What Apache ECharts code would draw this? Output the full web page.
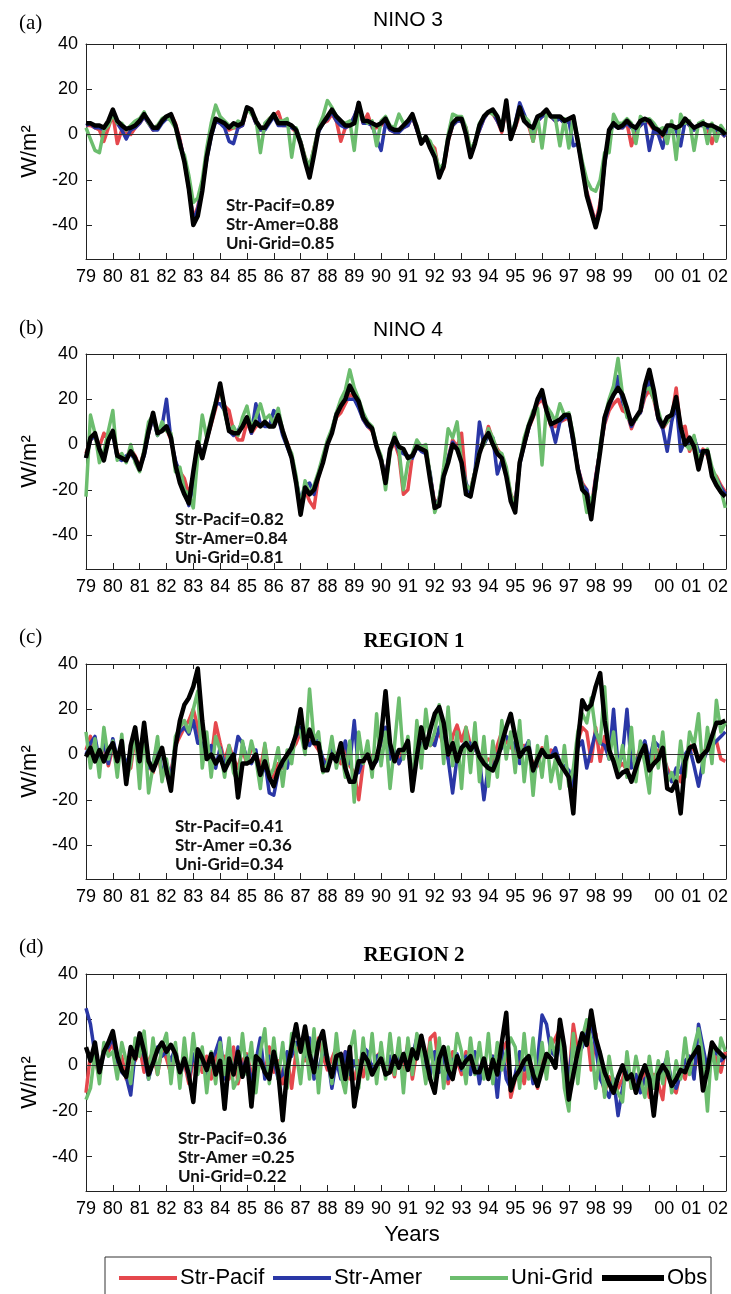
<!DOCTYPE html>
<html>
<head>
<meta charset="utf-8">
<title>Net heat flux anomalies</title>
<script src="https://cdn.jsdelivr.net/npm/echarts@6/dist/echarts.min.js"></script>
<style>
  html, body { margin: 0; padding: 0; background: #fff; }
  #chart { width: 731px; height: 1294px; }
</style>
</head>
<body>
<div id="chart"></div>
<script>
// samples every two months, starting Jan 1979
const startYear = 1979;
const perYear = 6;
const yearTicks = [1979, 1980, 1981, 1982, 1983, 1984, 1985, 1986, 1987, 1988, 1989, 1990,
  1991, 1992, 1993, 1994, 1995, 1996, 1997, 1998, 1999, 2000, 2001, 2002];
const fluxTicks = [-40, -20, 0, 20, 40];
const seriesNames = ['Str-Pacif', 'Str-Amer', 'Uni-Grid', 'Obs'];
const panelTitles = ['NINO 3', 'NINO 4', 'REGION 1', 'REGION 2'];
const panelLetters = ['(a)', '(b)', '(c)', '(d)'];
const corrPacif = ['0.89', '0.82', '0.41', '0.36'];
const corrAmer = ['0.88', '0.84', '0.36', '0.25'];
const corrUni = ['0.85', '0.81', '0.34', '0.22'];

// (a) NINO 3
const nino3Obs = [
  5, 5, 4, 4, 3, 6,   11, 6, 4, 2.5, 3, 4,   6, 9, 6, 3, 3, 6,   8, 9, 4, -4, -12, -24,
  -40, -36, -25, -10, 0, 7,   6, 5, 3, 5, 4, 5,   12, 11, 6, 3, 3, 6,   9, 5, 5, 5, 4, 2,
  -4, -12, -19, -9, 2, 5,   8, 11, 8, 6, 4, 4,   5, 14, 6, 6, 5, 4,   5, 7, 3, 2, 2, 4,
  6, 9, 3, -4, -1, -6,   -10, -19, -14, -2, 5, 7,   7, 0, -10, -4, 4, 8,   10, 11, 8, 2, 15, -2,
  4, 12, 6, 4, 3, 8,   9, 11, 8, 8, 8, 6,   7, 8, -3, -15, -27, -34,   -41, -33, -12, 2, 5, 3,
  4, 6, 4, 3, 6, 7,   6, 3, 2, 0, 4, 4,   3, 4, 7, 5, 3, 4,   5, 4, 4, 3, 2, 0
];
const nino3Pacif = [
  4, 4, 3, 2, -3, 3,   9, -4, 2, 1, 0, 3,   5, 8, 5, 2, 4, 6,   7, 9, 5, -2, -12, -24,
  -37, -32, -22, -9, 1, 6,   5, 4, 2, 3, 3, 4,   11, 10, 5, 2, 4, 7,   8, 10, 4, 4, 3, 1,
  -3, -10, -15, -6, 2, 5,   6, 9, 6, -3, 3, 4,   8, 12, 5, 9, 3, 3,   4, 6, 2, 1, 2, 3,
  4, 8, 2, -3, -2, -4,   -6, -17, -15, -3, 4, 6,   6, 3, -8, -3, 2, 7,   10, 9, 6, 1, 12, -1,
  3, 9, 8, 4, -3, 6,   8, 9, 8, 6, 7, 5,   6, 7, -3, -14, -25, -32,   -39, -30, -12, 1, 4, 3,
  3, 5, -5, 2, 4, 6,   5, 2, 0, -1, 3, 3,   2, 4, 6, 4, 2, 4,   4, 3, -4, 2, 1, -1
];
const nino3Amer = [
  4, 5, 3, 3, 2, 5,   10, 5, 2, -2, 2, 3,   5, 8, 5, 2, 2, 5,   7, 7, 4, -3, -11, -23,
  -38, -33, -23, -11, -1, 6,   5, 3, -3, -4, 3, 4,   12, 10, 5, 2, 2, 5,   8, 4, 4, 4, 3, 2,
  -3, -11, -17, -7, 1, 5,   7, 10, 6, 4, 3, 4,   8, 13, 5, 5, 4, -2,   -7, 5, 2, 1, 1, 3,
  4, 8, 2, -3, -2, -5,   -9, -17, -14, -2, 4, 6,   6, 2, -9, -3, 2, 7,   10, 10, 6, 2, 13, -1,
  5, 14, 9, 4, 2, 6,   8, 9, 8, 6, 7, 5,   6, -5, -4, -14, -26, -33,   -40, -32, -13, 1, 4, 3,
  3, 5, 3, 2, 4, 6,   -7, 2, 0, -6, 3, 3,   2, -5, 6, 4, 2, 4,   4, 3, 3, 2, 1, -1
];
const nino3Uni = [
  3, -2, -7, -8, 2, 4,   9, 5, 5, 2, 4, 6,   7, 10, 5, 3, 4, 7,   8, 6, 3, -6, -9, -18,
  -30, -28, -20, -6, 5, 13,   8, 6, 4, 3, 6, 5,   12, 9, 7, -8, 5, 7,   9, 6, 6, 7, -10, 3,
  -3, -10, -14, -6, 3, 8,   15, 12, 8, 6, 5, 6,   -7, 12, 7, 5, 6, -5,   6, 8, 4, 3, 9, 5,
  6, 8, 4, -3, -1, -3,   -8, -15, -13, 0, 9, 8,   8, 3, -7, -3, 5, 8,   10, 9, 8, 4, 12, 0,
  5, 9, 8, 6, -3, 8,   -6, 9, 8, 7, -5, 7,   -6, 8, -2, -12, -20, -24,   -25, -20, -8, -8, 9, 5,
  5, 7, 5, -4, 8, 6,   7, 5, 2, 3, -4, 6,   -11, 9, 5, 6, -7, 5,   6, -4, 5, -3, 4, 1
];

// (b) NINO 4
const nino4Obs = [
  -6, 3, 5, -2, -7, 2,   6, -5, -6, -7, -3, -6,   -11, -4, 6, 14, 5, 6,   8, 3, -9, -17, -22, -26,
  -12, 1, -6, 2, 10, 18,   27, 16, 6, 5, 5, 8,   12, 6, 10, 8, 10, 8,   8, 13, 6, 0, -6, -17,
  -31, -19, -22, -20, -14, -8,   0, 5, 13, 17, 20, 26,   22, 19, 12, 9, 7, -1,   -7, -17, -2, 3, -1, -2,
  -6, -5, -1, -2, -3, -16,   -28, -27, -14, -8, 0, -2,   -8, -22, -23, -13, -4, 2,   5, 0, -4, -6, -14, -25,
  -30, -8, 0, 8, 13, 20,   24, 15, 9, 10, 11, 13,   13, 2, -11, -20, -22, -33,   -17, -3, 12, 18, 22, 25,
  22, 16, 9, 12, 15, 26,   33, 24, 12, 8, 12, 13,   21, 8, 0, 3, -1, -11,   -3, -3, -14, -18, -21, -23
];
const nino4Pacif = [
  -4, 2, 4, -1, 5, 2,   5, -4, -5, -6, -2, -5,   -10, -3, 5, 12, 6, 6,   7, 2, -8, -12, -15, -22,
  -14, 0, -5, 2, 9, 16,   25, 17, 15, 6, 2, 2,   10, 5, 8, 9, 10, 8,   9, 12, 5, 1, -5, -16,
  -28, -20, -25, -28, -14, -8,   1, 6, 12, 14, 18, 22,   21, 17, 11, 8, 6, 0,   -6, -15, -3, 1, -5, -22,
  -20, -5, 0, -2, -2, -14,   -26, -24, -12, -6, 2, -1,   5, -18, -20, -12, -3, 0,   8, 2, -2, -5, -12, -22,
  -26, -8, 0, 7, 12, 18,   20, 15, 8, 8, 10, 11,   12, 2, -10, -17, -20, -28,   -14, -2, 9, 15, 18, 20,
  15, 14, 7, 12, 14, 21,   24, 20, 11, 7, 10, 12,   25, 7, 8, -3, 2, -8,   -2, -5, -12, -14, -18, -21
];
const nino4Amer = [
  -6, 2, 4, -3, -6, 2,   5, -6, -7, -5, -4, -7,   -10, -5, 5, 12, 4, 8,   20, 2, -7, -13, -20, -27,
  -18, 1, -5, 2, 10, 18,   18, 15, 6, 4, 6, 10,   12, 5, 18, 9, 8, 8,   15, 12, 4, -1, -6, -16,
  -25, -18, -17, -22, -13, -6,   1, 6, 14, 17, 20, 20,   20, 16, 11, 8, 7, -1,   -6, -15, -2, 2, -3, -4,
  -5, -6, -1, -3, -4, -13,   -28, -24, -12, -6, 1, -2,   -8, -17, -22, -12, 10, 0,   4, 3, -13, -7, -13, -24,
  -26, -9, 0, 7, 14, 19,   22, 15, 9, 1, 10, 12,   12, 0, -10, -18, -20, -30,   -15, -2, 10, 17, 22, 30,
  19, 14, 8, 12, 14, 23,   28, 22, 11, 7, -3, 10,   18, -3, 2, 0, 3, -3,   -3, -4, -12, -15, -19, -22
];
const nino4Uni = [
  -23, 13, 5, -8, -3, 6,   15, -7, -4, -8, 0, -8,   -12, -2, 10, 13, 4, 10,   6, 5, -12, -10, -20, -22,
  -28, -5, 13, 3, 12, 19,   26, 14, 6, 8, 4, 12,   17, 7, 12, 18, 11, 13,   9, 16, 6, 0, -4, -14,
  -28, -16, -22, -18, -12, -5,   2, 7, 14, 20, 24, 33,   25, 20, 14, 10, 8, 0,   -5, -20, -4, 5, -2, -20,
  -8, -4, 2, -1, 0, -14,   -30, -24, -10, 7, 3, 10,   -8, -18, -20, -12, -3, 0,   7, 3, -3, -4, -10, -22,
  -28, -8, 3, 9, 15, 16,   -9, 17, 14, 10, 18, 13,   14, 4, -12, -18, -30, -24,   -20, 0, 12, 20, 26, 38,
  22, 12, 10, 11, 15, 24,   25, 20, 15, 8, 10, 14,   20, 8, 0, -2, 4, -6,   -4, -2, -10, -15, -20, -28
];

// (c) REGION 1
const region1Obs = [
  -1, 3, -3, 2, -3, 2,   5, -3, 6, -13, 4, 12,   -3, 14, -3, -7, -2, 3,   -7, -16, 3, 15, 22, 25,
  30, 38, 15, -2, 0, -4,   -1, -7, -3, 0, -19, -4,   -4, -3, 0, -9, -3, -10,   -14, -7, -3, 0, 3, 9,
  20, 3, 11, 5, 5, -7,   -7, 0, -3, 5, -6, -12,   -12, -3, -3, 0, -6, -2,   8, 28, 5, -3, 2, 2,
  6, -16, -1, 12, 3, 11,   18, 21, 14, 0, 5, -3,   3, 5, 2, 5, -1, -4,   -6, -7, -2, 5, 12, 18,
  8, -1, 2, 3, -7, -2,   2, -1, -1, 0, -4, -7,   -10, -26, 5, 24, 20, 22,   30, 36, 15, 2, -3, -10,
  -8, -7, -12, -6, 0, 4,   -7, -4, -2, 3, -15, -16,   -12, -26, -3, 3, 4, -3,   0, 2, 8, 14, 14, 15
];
const region1Pacif = [
  2, 8, -2, 0, 3, -5,   3, -4, 5, -8, -6, 8,   0, 9, -5, -8, 2, -10,   -6, -8, 4, 8, 12, 15,
  20, 12, 2, 5, -2, 14,   5, -3, 4, -2, -6, 2,   -4, 3, 1, -6, 4, -9,   -10, -4, -6, 0, 2, 5,
  10, 4, 6, 5, 2, -2,   -3, 2, 0, -4, 3, -5,   -8, -20, -4, 2, -2, 0,   5, 8, 3, 1, -4, 3,
  4, -10, 2, 5, 6, 4,   6, 10, 4, -2, 8, 13,   6, 12, 4, 2, 0, -3,   -2, -4, 4, 10, 6, 3,
  2, -3, 4, 1, -4, -5,   3, -1, 2, 1, -3, -6,   -8, -15, 6, 12, 10, -3,   12, -3, 8, 0, -2, -6,
  -4, -7, -5, -3, 3, 2,   -5, -2, 2, 0, -6, -10,   -8, -12, -2, 4, 2, -2,   1, 3, 5, 6, -2, -3
];
const region1Amer = [
  0, 5, 8, -3, 6, -4,   7, -2, 3, -5, 2, 6,   -4, 10, -6, -4, 5, -8,   -4, -10, 5, 10, 12, 9,
  15, 5, 5, -2, 4, -6,   3, -5, 1, -3, 8, 5,   -2, -4, 2, -12, -3, -17,   -18, -8, -4, -6, 4, 8,
  12, 6, 4, 8, 5, -2,   -6, 2, -3, -1, 6, -4,   15, -8, -2, 2, -5, -3,   6, 12, -2, 2, -4, 0,
  4, -12, 0, 5, 4, 6,   4, 12, 6, -2, -17, -1,   3, 6, 5, 3, -2, -20,   -5, -6, 0, 3, 8, 6,
  4, -4, 2, 6, -10, -3,   2, 0, -1, 3, -4, -5,   -7, -14, 3, 6, -6, 2,   10, 5, 4, -2, 20, -5,
  0, 20, -6, -4, 2, 6,   -3, 6, 4, 2, -8, -12,   -6, -8, 0, 3, -5, -14,   -3, 2, 4, 6, 8, 10
];
const region1Uni = [
  10, -6, 7, -10, 12, -2,   6, -10, 9, -12, -4, 10,   -15, 12, -17, -5, 8, -12,   -2, -15, 8, 12, 15, 10,
  20, 28, -6, 10, -10, 8,   2, -10, 4, -8, -12, 6,   -4, 6, -2, -15, 5, -10,   -6, 3, -14, 2, -4, 12,
  10, 0, 29, 6, 10, -8,   -4, 8, -6, 3, -10, 6,   -21, 10, -4, 6, -10, 18,   -5, 10, -15, 4, 25, -2,
  8, -14, 15, -6, 20, 4,   10, 22, -4, 21, -5, 10,   -15, 12, -8, 14, -12, 8,   -14, 6, -10, 15, -2, 10,
  -8, 15, -12, 6, -18, 4,   -10, 8, -12, -2, -15, 4,   -14, -6, 10, 18, 14, 25,   10, 5, 30, -2, 10, -8,
  4, -10, 12, -12, 6, -4,   -17, 8, -6, 10, -12, -8,   -14, 6, -10, 10, 4, 18,   -8, 12, -4, 24, 10, 14
];

// (d) REGION 2
const region2Obs = [
  8, 2, 10, -3, 6, 10,   15, 4, -2, -5, 8, 3,   14, 6, -4, 1, 7, 10,   6, 9, 5, -3, 3, -4,
  -16, 7, 3, -2, 5, -4,   2, -19, 3, -4, 6, -5,   3, -18, 4, 2, -3, -6,   6, -3, -24, -2, 8, 18,
  6, 17, 5, -3, 10, 15,   2, -5, 4, 5, -6, 8,   -18, -6, 5, 2, -4, 0,   3, -4, -3, 4, -1, 5,
  -2, 7, 3, 13, 4, -6,   -12, 3, 8, -2, -6, 4,   -1, 2, 4, -3, -3, 3,   -6, 2.5, -4, 10, 23, -11,
  -5, -2, 2, 4, -4, -9,   -2, 5, 3, -1, 20, 8,   -15, -4, 6, 14, 9, 24,   12, 5, -3, -8, -12, -5,
  0, -6, -4, -12, -5, 0,   -6, -22, -4, 0, -3, -9,   -6, -2, -3, 2, 5, 8,   -11, -2, 10, 7, 5, 3
];
const region2Pacif = [
  -12, 5, 3, -5, 8, 6,   10, -2, 4, -6, 5, 2,   8, -3, 2, 6, -4, 7,   3, -4, 6, -2, 1, -8,
  2, 5, -3, 4, -6, 6,   -3, 4, -6, 8, -8, 2,   5, -4, 2, 6, -4, 8,   -3, 2, -8, 4, -10, 6,
  10, 2, 8, -4, 12, 4,   -2, 3, 8, -4, 6, -6,   -6, 2, -5, 4, -3, 4,   6, -4, 2, -5, 8, -2,
  10, -6, 6, 8, -4, 12,   14, -3, 4, -8, 6, 2,   -4, 6, -2, 4, -6, 2,   -5, 4, -2, 6, 10, -14,
  -6, 3, -8, 4, -3, -10,   6, -2, 8, 12, 16, -4,   -6, 18, 6, 10, 16, -2,   14, -3, -12, -5, -8, -10,
  -6, 2, -10, -4, -8, -2,   -14, -4, -8, -15, 4, -10,   -12, -2, -6, 4, -3, 6,   3, -4, 8, 2, -3, 6
];
const region2Amer = [
  25, 18, 5, -4, 6, 8,   12, 2, -3, -5, -13, 6,   10, 4, -6, 2, 8, 4,   6, 2, 8, -6, 4, -6,
  5, -2, 4, -4, 2, 6,   12, -6, 3, -4, 8, -3,   4, -8, 2, 12, -6, 4,   2, -6, -4, 6, 4, 10,
  8, 4, 12, -6, -2, 6,   4, -10, 2, -6, 6, -4,   2, -4, 8, 6, -2, 4,   5, -3, 4, -2, 6, 2,
  8, 4, 12, 6, -2, -4,   6, -3, 4, -6, 2, 5,   -2, 4, -4, 6, -8, 2,   -6, 4, -14, 8, -6, -10,
  -4, 6, -2, 4, -8, 2,   22, 18, 6, 4, 10, -6,   -4, 10, 4, 8, 14, 18,   8, -6, -10, -14, -6, -22,
  -10, -2, -6, -4, -12, -6,   -4, -10, -6, -2, 4, -8,   -10, -4, 2, 4, -6, 18,   8, -2, 4, 6, 2, 4
];
const region2Uni = [
  -15, -10, 6, -8, 10, 4,   6, -6, 10, 2, -8, 12,   4, 15, -6, 12, -4, 8,   14, -8, 10, -10, 12, -6,
  14, -4, 8, -12, 6, -8,   10, -4, 12, -10, -6, 14,   -4, 10, -12, 6, 16, -8,   12, -6, 10, -10, 14, 6,
  -8, 12, -6, 16, -12, 10,   4, -8, 14, -4, -12, 6,   15, -10, 12, -6, 14, -8,   10, -6, 14, -4, 12, -12,
  12, -4, 14, 6, -8, 10,   -6, 12, -10, 8, -4, 14,   6, -8, 12, -4, 10, -6,   14, -8, 10, -2, 6, 12,
  8, -10, 14, -6, 12, -8,   10, -6, 12, 4, 16, -10,   -20, 14, -8, 12, 20, 10,   -10, 6, -14, 4, -8, -12,
  -16, 6, -10, 4, -6, -14,   4, -10, 2, -8, 6, -12,   2, -6, 12, -4, 8, 16,   4, -20, 10, -6, 12, 6
];

const panels = [
  [nino3Pacif, nino3Amer, nino3Uni, nino3Obs],
  [nino4Pacif, nino4Amer, nino4Uni, nino4Obs],
  [region1Pacif, region1Amer, region1Uni, region1Obs],
  [region2Pacif, region2Amer, region2Uni, region2Obs]
];
const lineColors = ['#e5484d', '#2a37a6', '#6cbd6e', '#000000'];
const lineWidths = [3.5, 3.5, 3.5, 4.5];

const gridTops = [44, 354, 664, 974];
const gridHeights = [215, 215, 215, 217];
const titleY = [20, 330, 642, 956];
const letterY = [23, 328, 637, 947];
const notesY = [206, 520, 827, 1139];
const notesX = [226, 175, 175, 178];

function toPairs(vals) {
  return vals.map((v, i) => [startYear + i / perYear, v]);
}

function yearLabel(v) {
  if (Math.abs(v - Math.round(v)) > 0.01) return '';
  const s = String(Math.round(v) % 100).padStart(2, '0');
  return v >= 2000 ? '{late|' + s + '}' : s;
}

const chart = echarts.init(document.getElementById('chart'), null, { renderer: 'canvas' });

const grid = [], xAxis = [], yAxis = [], series = [], graphic = [];
const tickFont = { color: '#000', fontSize: 18, fontFamily: 'Liberation Sans' };
const frameLine = { show: true, onZero: false, lineStyle: { color: '#222', width: 1 } };

panels.forEach((lines, p) => {
  grid.push({ left: 86, width: 644, top: gridTops[p], height: gridHeights[p] });
  xAxis.push({
    type: 'value', gridIndex: p, min: 1979, max: 2002.85, position: 'bottom',
    axisLine: frameLine,
    axisTick: { inside: true, length: 6, customValues: yearTicks, lineStyle: { color: '#222' } },
    axisLabel: Object.assign({
      margin: 9, customValues: yearTicks, formatter: yearLabel,
      rich: { late: { fontSize: 18, fontFamily: 'Liberation Sans', color: '#000', padding: [0, 0, 0, 30] } }
    }, tickFont),
    splitLine: { show: false }
  });
  xAxis.push({
    type: 'value', gridIndex: p, min: 1979, max: 2002.85, position: 'top',
    axisLine: frameLine,
    axisTick: { inside: true, length: 5, customValues: yearTicks, lineStyle: { color: '#222' } },
    axisLabel: { show: false },
    splitLine: { show: false }
  });
  yAxis.push({
    type: 'value', gridIndex: p, min: -55, max: 40, position: 'left',
    name: 'W/m²', nameLocation: 'middle', nameRotate: 90, nameGap: 40,
    nameTextStyle: { fontSize: 22, fontFamily: 'Liberation Sans', color: '#000' },
    axisLine: frameLine,
    axisTick: { inside: true, length: 6, customValues: fluxTicks, lineStyle: { color: '#222' } },
    axisLabel: Object.assign({ margin: 8, customValues: fluxTicks }, tickFont),
    splitLine: { show: false }
  });
  yAxis.push({
    type: 'value', gridIndex: p, min: -55, max: 40, position: 'right',
    axisLine: frameLine,
    axisTick: { inside: true, length: 6, customValues: fluxTicks, lineStyle: { color: '#222' } },
    axisLabel: { show: false },
    splitLine: { show: false }
  });

  lines.forEach((vals, k) => {
    const s = {
      name: seriesNames[k], type: 'line', xAxisIndex: 2 * p, yAxisIndex: 2 * p,
      data: toPairs(vals), showSymbol: false, symbol: 'none', animation: false,
      color: lineColors[k], z: 2 + k,
      lineStyle: { color: lineColors[k], width: lineWidths[k], join: 'round' }
    };
    if (k === 3) {
      s.markLine = {
        silent: true, symbol: 'none', label: { show: false }, animation: false,
        lineStyle: { color: '#333', width: 1, type: 'solid' },
        data: [{ yAxis: 0 }]
      };
    }
    series.push(s);
  });

  graphic.push({
    type: 'text', x: 19, y: letterY[p],
    style: { text: panelLetters[p], font: '21px "Liberation Serif"', fill: '#000', verticalAlign: 'middle' }
  });
  graphic.push({
    type: 'text', x: p < 2 ? 408 : 414, y: titleY[p],
    style: {
      text: panelTitles[p], fill: '#000', align: 'center', verticalAlign: 'middle',
      font: p < 2 ? '21px "Liberation Sans"' : 'bold 21px "Liberation Serif"'
    }
  });
  const notes = ['Str-Pacif=' + corrPacif[p],
    (p < 2 ? 'Str-Amer=' : 'Str-Amer =') + corrAmer[p],
    'Uni-Grid=' + corrUni[p]];
  notes.forEach((t, j) => {
    graphic.push({
      type: 'text', x: notesX[p], y: notesY[p] + j * 19, z: 10,
      style: { text: t, font: 'bold 17px Lato', fill: '#111', verticalAlign: 'middle' }
    });
  });
});

graphic.push({
  type: 'text', x: 412, y: 1235,
  style: { text: 'Years', font: '22px "Liberation Sans"', fill: '#000', align: 'center', verticalAlign: 'middle' }
});
graphic.push({
  type: 'rect', shape: { x: 105, y: 1257, width: 606, height: 50 },
  style: { fill: 'none', stroke: '#333', lineWidth: 1 }
});

const legendLeft = [114, 268, 445, 597];
const legend = seriesNames.map((name, k) => ({
  data: [name], left: legendLeft[k], top: 1262, icon: 'rect',
  itemWidth: k === 3 ? 62 : 58, itemHeight: k === 3 ? 6 : 4, itemGap: 5,
  selectedMode: false,
  textStyle: { fontSize: 22, fontFamily: 'Liberation Sans', color: '#000', padding: [0, 0, 0, -2] }
}));

chart.setOption({
  backgroundColor: '#fff',
  animation: false,
  grid: grid,
  xAxis: xAxis,
  yAxis: yAxis,
  legend: legend,
  series: series,
  graphic: graphic
});
</script>
</body>
</html>
